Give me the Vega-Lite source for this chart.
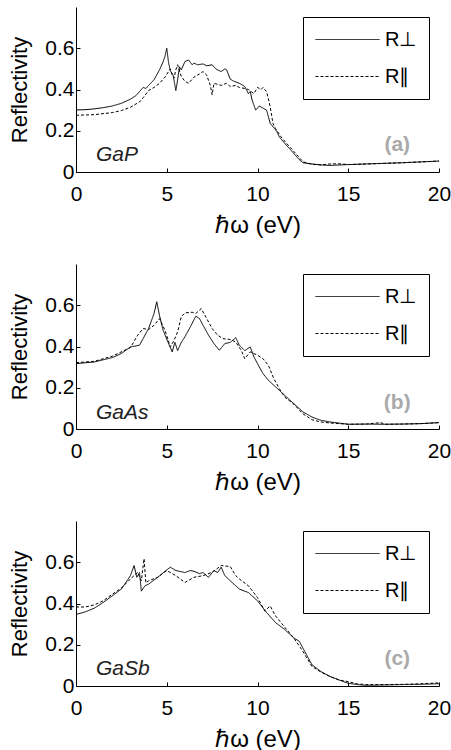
{
 "$schema": "https://vega.github.io/schema/vega-lite/v6.json",
 "padding": {"left": 8, "top": 7, "right": 2, "bottom": 0},
 "spacing": 92,
 "bounds": "flush",
 "resolve": {"scale": {"strokeDash": "independent"}, "legend": {"strokeDash": "independent"}},
 "config": {
  "view": {"stroke": null},
  "font": "Liberation Sans",
  "axis": {"grid": false, "domainColor": "black", "domainWidth": 1, "tickColor": "black", "tickWidth": 1, "tickSize": -4,
   "labelColor": "black", "titleColor": "black", "labelFontSize": 21, "titleFontSize": 22, "titleFontWeight": "normal",
   "labelFont": "Liberation Sans", "titleFont": "Liberation Sans"},
  "axisX": {"labelPadding": 15, "titlePadding": 9, "titleFontSize": 24, "labelFlush": false},
  "axisY": {"labelPadding": 6, "titlePadding": 13},
  "legend": {"orient": "top-right", "offset": 10, "title": null, "strokeColor": "black", "fillColor": "white", "padding": 12,
   "labelFontSize": 20, "labelFont": "Liberation Sans", "labelColor": "black", "symbolType": "M-3.2,0H3.2", "symbolSize": 400,
   "symbolStrokeWidth": 1, "symbolStrokeColor": "black", "symbolOffset": 22, "rowPadding": 16, "labelOffset": 27, "cornerRadius": 0}
 },
 "datasets": {
  "a": [
   {"E":0,"R":0.301,"p":"R⊥"},{"E":0.5,"R":0.302,"p":"R⊥"},{"E":1,"R":0.306,"p":"R⊥"},{"E":1.5,"R":0.312,"p":"R⊥"},{"E":2,"R":0.32,"p":"R⊥"},{"E":2.5,"R":0.333,"p":"R⊥"},{"E":3,"R":0.353,"p":"R⊥"},{"E":3.3,"R":0.37,"p":"R⊥"},{"E":3.5,"R":0.39,"p":"R⊥"},{"E":3.7,"R":0.41,"p":"R⊥"},{"E":3.85,"R":0.405,"p":"R⊥"},{"E":4,"R":0.42,"p":"R⊥"},{"E":4.3,"R":0.447,"p":"R⊥"},{"E":4.6,"R":0.495,"p":"R⊥"},{"E":4.8,"R":0.535,"p":"R⊥"},{"E":4.9,"R":0.56,"p":"R⊥"},{"E":5.0,"R":0.6,"p":"R⊥"},{"E":5.1,"R":0.53,"p":"R⊥"},{"E":5.2,"R":0.49,"p":"R⊥"},{"E":5.35,"R":0.47,"p":"R⊥"},{"E":5.5,"R":0.395,"p":"R⊥"},{"E":5.6,"R":0.447,"p":"R⊥"},{"E":5.7,"R":0.51,"p":"R⊥"},{"E":5.8,"R":0.495,"p":"R⊥"},{"E":6.0,"R":0.535,"p":"R⊥"},{"E":6.2,"R":0.543,"p":"R⊥"},{"E":6.4,"R":0.52,"p":"R⊥"},{"E":6.5,"R":0.528,"p":"R⊥"},{"E":6.7,"R":0.52,"p":"R⊥"},{"E":7,"R":0.524,"p":"R⊥"},{"E":7.2,"R":0.515,"p":"R⊥"},{"E":7.5,"R":0.52,"p":"R⊥"},{"E":7.7,"R":0.5,"p":"R⊥"},{"E":7.8,"R":0.495,"p":"R⊥"},{"E":8,"R":0.487,"p":"R⊥"},{"E":8.2,"R":0.5,"p":"R⊥"},{"E":8.3,"R":0.495,"p":"R⊥"},{"E":8.5,"R":0.45,"p":"R⊥"},{"E":8.7,"R":0.44,"p":"R⊥"},{"E":9,"R":0.43,"p":"R⊥"},{"E":9.2,"R":0.42,"p":"R⊥"},{"E":9.3,"R":0.414,"p":"R⊥"},{"E":9.5,"R":0.38,"p":"R⊥"},{"E":9.6,"R":0.39,"p":"R⊥"},{"E":9.7,"R":0.35,"p":"R⊥"},{"E":9.9,"R":0.3,"p":"R⊥"},{"E":10.1,"R":0.32,"p":"R⊥"},{"E":10.3,"R":0.31,"p":"R⊥"},{"E":10.5,"R":0.3,"p":"R⊥"},{"E":10.7,"R":0.236,"p":"R⊥"},{"E":11,"R":0.204,"p":"R⊥"},{"E":11.1,"R":0.19,"p":"R⊥"},{"E":11.2,"R":0.17,"p":"R⊥"},{"E":11.5,"R":0.139,"p":"R⊥"},{"E":11.8,"R":0.11,"p":"R⊥"},{"E":12,"R":0.09,"p":"R⊥"},{"E":12.3,"R":0.06,"p":"R⊥"},{"E":12.5,"R":0.045,"p":"R⊥"},{"E":13,"R":0.039,"p":"R⊥"},{"E":13.5,"R":0.034,"p":"R⊥"},{"E":14,"R":0.032,"p":"R⊥"},{"E":15,"R":0.036,"p":"R⊥"},{"E":16,"R":0.039,"p":"R⊥"},{"E":17,"R":0.042,"p":"R⊥"},{"E":18,"R":0.045,"p":"R⊥"},{"E":19,"R":0.049,"p":"R⊥"},{"E":20,"R":0.053,"p":"R⊥"},
   {"E":0,"R":0.275,"p":"R∥"},{"E":1,"R":0.278,"p":"R∥"},{"E":2,"R":0.288,"p":"R∥"},{"E":2.5,"R":0.298,"p":"R∥"},{"E":3,"R":0.314,"p":"R∥"},{"E":3.5,"R":0.34,"p":"R∥"},{"E":3.7,"R":0.36,"p":"R∥"},{"E":4,"R":0.395,"p":"R∥"},{"E":4.3,"R":0.41,"p":"R∥"},{"E":4.6,"R":0.43,"p":"R∥"},{"E":4.9,"R":0.46,"p":"R∥"},{"E":5.1,"R":0.487,"p":"R∥"},{"E":5.2,"R":0.5,"p":"R∥"},{"E":5.3,"R":0.47,"p":"R∥"},{"E":5.4,"R":0.455,"p":"R∥"},{"E":5.5,"R":0.495,"p":"R∥"},{"E":5.6,"R":0.52,"p":"R∥"},{"E":5.8,"R":0.463,"p":"R∥"},{"E":6,"R":0.44,"p":"R∥"},{"E":6.2,"R":0.43,"p":"R∥"},{"E":6.5,"R":0.46,"p":"R∥"},{"E":6.8,"R":0.475,"p":"R∥"},{"E":7,"R":0.487,"p":"R∥"},{"E":7.2,"R":0.47,"p":"R∥"},{"E":7.4,"R":0.42,"p":"R∥"},{"E":7.5,"R":0.374,"p":"R∥"},{"E":7.6,"R":0.43,"p":"R∥"},{"E":8,"R":0.42,"p":"R∥"},{"E":8.3,"R":0.43,"p":"R∥"},{"E":8.5,"R":0.414,"p":"R∥"},{"E":8.8,"R":0.42,"p":"R∥"},{"E":9,"R":0.41,"p":"R∥"},{"E":9.3,"R":0.405,"p":"R∥"},{"E":9.5,"R":0.4,"p":"R∥"},{"E":9.8,"R":0.38,"p":"R∥"},{"E":10,"R":0.41,"p":"R∥"},{"E":10.2,"R":0.4,"p":"R∥"},{"E":10.3,"R":0.41,"p":"R∥"},{"E":10.5,"R":0.39,"p":"R∥"},{"E":10.7,"R":0.317,"p":"R∥"},{"E":10.85,"R":0.236,"p":"R∥"},{"E":11,"R":0.21,"p":"R∥"},{"E":11.3,"R":0.17,"p":"R∥"},{"E":11.6,"R":0.139,"p":"R∥"},{"E":12,"R":0.1,"p":"R∥"},{"E":12.5,"R":0.05,"p":"R∥"},{"E":13,"R":0.037,"p":"R∥"},{"E":13.5,"R":0.035,"p":"R∥"},{"E":14,"R":0.039,"p":"R∥"},{"E":14.5,"R":0.04,"p":"R∥"},{"E":15,"R":0.036,"p":"R∥"},{"E":16,"R":0.039,"p":"R∥"},{"E":17,"R":0.042,"p":"R∥"},{"E":18,"R":0.045,"p":"R∥"},{"E":19,"R":0.049,"p":"R∥"},{"E":20,"R":0.053,"p":"R∥"}
  ],
  "b": [
   {"E":0,"R":0.317,"p":"R⊥"},{"E":1,"R":0.325,"p":"R⊥"},{"E":2,"R":0.346,"p":"R⊥"},{"E":2.5,"R":0.366,"p":"R⊥"},{"E":3,"R":0.398,"p":"R⊥"},{"E":3.5,"R":0.406,"p":"R⊥"},{"E":4,"R":0.487,"p":"R⊥"},{"E":4.3,"R":0.56,"p":"R⊥"},{"E":4.45,"R":0.617,"p":"R⊥"},{"E":4.6,"R":0.55,"p":"R⊥"},{"E":4.8,"R":0.479,"p":"R⊥"},{"E":5.1,"R":0.414,"p":"R⊥"},{"E":5.3,"R":0.374,"p":"R⊥"},{"E":5.45,"R":0.42,"p":"R⊥"},{"E":5.6,"R":0.38,"p":"R⊥"},{"E":5.8,"R":0.42,"p":"R⊥"},{"E":6,"R":0.447,"p":"R⊥"},{"E":6.3,"R":0.495,"p":"R⊥"},{"E":6.6,"R":0.547,"p":"R⊥"},{"E":6.8,"R":0.536,"p":"R⊥"},{"E":7,"R":0.503,"p":"R⊥"},{"E":7.3,"R":0.455,"p":"R⊥"},{"E":7.6,"R":0.414,"p":"R⊥"},{"E":7.9,"R":0.382,"p":"R⊥"},{"E":8.2,"R":0.414,"p":"R⊥"},{"E":8.5,"R":0.42,"p":"R⊥"},{"E":8.8,"R":0.443,"p":"R⊥"},{"E":9,"R":0.406,"p":"R⊥"},{"E":9.3,"R":0.38,"p":"R⊥"},{"E":9.6,"R":0.398,"p":"R⊥"},{"E":9.8,"R":0.35,"p":"R⊥"},{"E":10,"R":0.317,"p":"R⊥"},{"E":10.3,"R":0.269,"p":"R⊥"},{"E":10.6,"R":0.236,"p":"R⊥"},{"E":11,"R":0.204,"p":"R⊥"},{"E":11.5,"R":0.163,"p":"R⊥"},{"E":12,"R":0.123,"p":"R⊥"},{"E":12.5,"R":0.083,"p":"R⊥"},{"E":13,"R":0.058,"p":"R⊥"},{"E":13.5,"R":0.042,"p":"R⊥"},{"E":14,"R":0.034,"p":"R⊥"},{"E":15,"R":0.023,"p":"R⊥"},{"E":16,"R":0.024,"p":"R⊥"},{"E":17,"R":0.023,"p":"R⊥"},{"E":18,"R":0.024,"p":"R⊥"},{"E":19,"R":0.026,"p":"R⊥"},{"E":20,"R":0.031,"p":"R⊥"},
   {"E":0,"R":0.322,"p":"R∥"},{"E":1,"R":0.328,"p":"R∥"},{"E":2,"R":0.353,"p":"R∥"},{"E":3,"R":0.395,"p":"R∥"},{"E":3.4,"R":0.455,"p":"R∥"},{"E":3.7,"R":0.487,"p":"R∥"},{"E":4,"R":0.482,"p":"R∥"},{"E":4.3,"R":0.503,"p":"R∥"},{"E":4.6,"R":0.535,"p":"R∥"},{"E":4.9,"R":0.479,"p":"R∥"},{"E":5.2,"R":0.398,"p":"R∥"},{"E":5.4,"R":0.43,"p":"R∥"},{"E":5.6,"R":0.471,"p":"R∥"},{"E":5.8,"R":0.544,"p":"R∥"},{"E":6,"R":0.563,"p":"R∥"},{"E":6.4,"R":0.566,"p":"R∥"},{"E":6.6,"R":0.56,"p":"R∥"},{"E":6.9,"R":0.584,"p":"R∥"},{"E":7.2,"R":0.536,"p":"R∥"},{"E":7.5,"R":0.487,"p":"R∥"},{"E":7.8,"R":0.455,"p":"R∥"},{"E":8.1,"R":0.438,"p":"R∥"},{"E":8.5,"R":0.434,"p":"R∥"},{"E":8.8,"R":0.422,"p":"R∥"},{"E":9.1,"R":0.382,"p":"R∥"},{"E":9.3,"R":0.341,"p":"R∥"},{"E":9.6,"R":0.374,"p":"R∥"},{"E":10,"R":0.358,"p":"R∥"},{"E":10.3,"R":0.341,"p":"R∥"},{"E":10.6,"R":0.309,"p":"R∥"},{"E":10.9,"R":0.244,"p":"R∥"},{"E":11.2,"R":0.196,"p":"R∥"},{"E":11.5,"R":0.155,"p":"R∥"},{"E":12,"R":0.12,"p":"R∥"},{"E":12.5,"R":0.074,"p":"R∥"},{"E":13,"R":0.045,"p":"R∥"},{"E":13.5,"R":0.034,"p":"R∥"},{"E":14,"R":0.029,"p":"R∥"},{"E":15,"R":0.023,"p":"R∥"},{"E":16,"R":0.024,"p":"R∥"},{"E":16.8,"R":0.031,"p":"R∥"},{"E":17,"R":0.023,"p":"R∥"},{"E":18,"R":0.024,"p":"R∥"},{"E":19,"R":0.026,"p":"R∥"},{"E":20,"R":0.031,"p":"R∥"}
  ],
  "c": [
   {"E":0,"R":0.347,"p":"R⊥"},{"E":0.5,"R":0.359,"p":"R⊥"},{"E":1,"R":0.377,"p":"R⊥"},{"E":1.5,"R":0.405,"p":"R⊥"},{"E":2,"R":0.437,"p":"R⊥"},{"E":2.5,"R":0.47,"p":"R⊥"},{"E":3,"R":0.535,"p":"R⊥"},{"E":3.2,"R":0.584,"p":"R⊥"},{"E":3.35,"R":0.527,"p":"R⊥"},{"E":3.5,"R":0.55,"p":"R⊥"},{"E":3.6,"R":0.46,"p":"R⊥"},{"E":3.8,"R":0.486,"p":"R⊥"},{"E":4,"R":0.494,"p":"R⊥"},{"E":4.5,"R":0.527,"p":"R⊥"},{"E":5,"R":0.563,"p":"R⊥"},{"E":5.2,"R":0.576,"p":"R⊥"},{"E":5.5,"R":0.56,"p":"R⊥"},{"E":6,"R":0.55,"p":"R⊥"},{"E":6.3,"R":0.56,"p":"R⊥"},{"E":6.5,"R":0.556,"p":"R⊥"},{"E":6.8,"R":0.545,"p":"R⊥"},{"E":7,"R":0.55,"p":"R⊥"},{"E":7.3,"R":0.527,"p":"R⊥"},{"E":7.6,"R":0.56,"p":"R⊥"},{"E":7.8,"R":0.55,"p":"R⊥"},{"E":8,"R":0.576,"p":"R⊥"},{"E":8.2,"R":0.535,"p":"R⊥"},{"E":8.5,"R":0.51,"p":"R⊥"},{"E":9,"R":0.47,"p":"R⊥"},{"E":9.5,"R":0.453,"p":"R⊥"},{"E":10,"R":0.413,"p":"R⊥"},{"E":10.5,"R":0.356,"p":"R⊥"},{"E":11,"R":0.307,"p":"R⊥"},{"E":11.5,"R":0.274,"p":"R⊥"},{"E":12,"R":0.233,"p":"R⊥"},{"E":12.3,"R":0.217,"p":"R⊥"},{"E":12.6,"R":0.168,"p":"R⊥"},{"E":13,"R":0.103,"p":"R⊥"},{"E":13.5,"R":0.07,"p":"R⊥"},{"E":14,"R":0.046,"p":"R⊥"},{"E":14.5,"R":0.029,"p":"R⊥"},{"E":15,"R":0.013,"p":"R⊥"},{"E":15.5,"R":0.007,"p":"R⊥"},{"E":16,"R":0.003,"p":"R⊥"},{"E":17,"R":0.005,"p":"R⊥"},{"E":18,"R":0.007,"p":"R⊥"},{"E":19,"R":0.008,"p":"R⊥"},{"E":20,"R":0.011,"p":"R⊥"},
   {"E":0,"R":0.383,"p":"R∥"},{"E":0.5,"R":0.383,"p":"R∥"},{"E":1,"R":0.393,"p":"R∥"},{"E":1.5,"R":0.413,"p":"R∥"},{"E":2,"R":0.445,"p":"R∥"},{"E":2.5,"R":0.475,"p":"R∥"},{"E":3,"R":0.519,"p":"R∥"},{"E":3.4,"R":0.551,"p":"R∥"},{"E":3.6,"R":0.51,"p":"R∥"},{"E":3.75,"R":0.617,"p":"R∥"},{"E":3.85,"R":0.5,"p":"R∥"},{"E":4,"R":0.51,"p":"R∥"},{"E":4.5,"R":0.527,"p":"R∥"},{"E":5,"R":0.56,"p":"R∥"},{"E":5.5,"R":0.535,"p":"R∥"},{"E":6,"R":0.502,"p":"R∥"},{"E":6.5,"R":0.527,"p":"R∥"},{"E":7,"R":0.535,"p":"R∥"},{"E":7.5,"R":0.551,"p":"R∥"},{"E":8,"R":0.584,"p":"R∥"},{"E":8.5,"R":0.579,"p":"R∥"},{"E":8.8,"R":0.535,"p":"R∥"},{"E":9,"R":0.519,"p":"R∥"},{"E":9.5,"R":0.486,"p":"R∥"},{"E":10,"R":0.429,"p":"R∥"},{"E":10.4,"R":0.364,"p":"R∥"},{"E":10.7,"R":0.388,"p":"R∥"},{"E":11,"R":0.339,"p":"R∥"},{"E":11.5,"R":0.285,"p":"R∥"},{"E":12,"R":0.233,"p":"R∥"},{"E":12.5,"R":0.168,"p":"R∥"},{"E":13,"R":0.095,"p":"R∥"},{"E":13.5,"R":0.067,"p":"R∥"},{"E":14,"R":0.046,"p":"R∥"},{"E":14.5,"R":0.029,"p":"R∥"},{"E":15,"R":0.021,"p":"R∥"},{"E":15.5,"R":0.01,"p":"R∥"},{"E":16,"R":0.007,"p":"R∥"},{"E":17,"R":0.007,"p":"R∥"},{"E":18,"R":0.008,"p":"R∥"},{"E":19,"R":0.011,"p":"R∥"},{"E":20,"R":0.015,"p":"R∥"}
  ]
 },
 "vconcat": [
  {"width": 363, "height": 165,
   "layer": [
    {"data": {"name": "a"}, "mark": {"type": "line", "color": "black", "strokeWidth": 1},
     "encoding": {
      "x": {"field": "E", "type": "quantitative", "scale": {"domain": [0, 20]}, "axis": {"values": [0, 5, 10, 15, 20], "title": "ℏω (eV)"}},
      "y": {"field": "R", "type": "quantitative", "scale": {"domain": [0, 0.8], "nice": false}, "axis": {"values": [0, 0.2, 0.4, 0.6], "labelExpr": "datum.value == 0 ? '0' : format(datum.value, '.1f')", "title": "Reflectivity"}},
      "strokeDash": {"field": "p", "type": "nominal", "scale": {"domain": ["R⊥", "R∥"], "range": [[1, 0], [3, 2]]}}
     }},
    {"data": {"values": [{"E": 1.1, "R": 0.083, "t": "GaP"}]}, "mark": {"type": "text", "align": "left", "baseline": "middle", "fontStyle": "italic", "fontSize": 21, "color": "#222"},
     "encoding": {"x": {"field": "E", "type": "quantitative"}, "y": {"field": "R", "type": "quantitative"}, "text": {"field": "t"}}},
    {"data": {"values": [{"E": 17.7, "R": 0.13, "t": "(a)"}]}, "mark": {"type": "text", "align": "center", "baseline": "middle", "fontWeight": "bold", "fontSize": 21, "color": "#aaaaaa"},
     "encoding": {"x": {"field": "E", "type": "quantitative"}, "y": {"field": "R", "type": "quantitative"}, "text": {"field": "t"}}}
   ]},
  {"width": 363, "height": 165,
   "layer": [
    {"data": {"name": "b"}, "mark": {"type": "line", "color": "black", "strokeWidth": 1},
     "encoding": {
      "x": {"field": "E", "type": "quantitative", "scale": {"domain": [0, 20]}, "axis": {"values": [0, 5, 10, 15, 20], "title": "ℏω (eV)"}},
      "y": {"field": "R", "type": "quantitative", "scale": {"domain": [0, 0.8], "nice": false}, "axis": {"values": [0, 0.2, 0.4, 0.6], "labelExpr": "datum.value == 0 ? '0' : format(datum.value, '.1f')", "title": "Reflectivity"}},
      "strokeDash": {"field": "p", "type": "nominal", "scale": {"domain": ["R⊥", "R∥"], "range": [[1, 0], [3, 2]]}}
     }},
    {"data": {"values": [{"E": 1.1, "R": 0.079, "t": "GaAs"}]}, "mark": {"type": "text", "align": "left", "baseline": "middle", "fontStyle": "italic", "fontSize": 21, "color": "#222"},
     "encoding": {"x": {"field": "E", "type": "quantitative"}, "y": {"field": "R", "type": "quantitative"}, "text": {"field": "t"}}},
    {"data": {"values": [{"E": 17.7, "R": 0.128, "t": "(b)"}]}, "mark": {"type": "text", "align": "center", "baseline": "middle", "fontWeight": "bold", "fontSize": 21, "color": "#aaaaaa"},
     "encoding": {"x": {"field": "E", "type": "quantitative"}, "y": {"field": "R", "type": "quantitative"}, "text": {"field": "t"}}}
   ]},
  {"width": 363, "height": 165,
   "layer": [
    {"data": {"name": "c"}, "mark": {"type": "line", "color": "black", "strokeWidth": 1},
     "encoding": {
      "x": {"field": "E", "type": "quantitative", "scale": {"domain": [0, 20]}, "axis": {"values": [0, 5, 10, 15, 20], "title": "ℏω (eV)"}},
      "y": {"field": "R", "type": "quantitative", "scale": {"domain": [0, 0.8], "nice": false}, "axis": {"values": [0, 0.2, 0.4, 0.6], "labelExpr": "datum.value == 0 ? '0' : format(datum.value, '.1f')", "title": "Reflectivity"}},
      "strokeDash": {"field": "p", "type": "nominal", "scale": {"domain": ["R⊥", "R∥"], "range": [[1, 0], [3, 2]]}}
     }},
    {"data": {"values": [{"E": 1.1, "R": 0.083, "t": "GaSb"}]}, "mark": {"type": "text", "align": "left", "baseline": "middle", "fontStyle": "italic", "fontSize": 21, "color": "#222"},
     "encoding": {"x": {"field": "E", "type": "quantitative"}, "y": {"field": "R", "type": "quantitative"}, "text": {"field": "t"}}},
    {"data": {"values": [{"E": 17.7, "R": 0.13, "t": "(c)"}]}, "mark": {"type": "text", "align": "center", "baseline": "middle", "fontWeight": "bold", "fontSize": 21, "color": "#aaaaaa"},
     "encoding": {"x": {"field": "E", "type": "quantitative"}, "y": {"field": "R", "type": "quantitative"}, "text": {"field": "t"}}}
   ]}
 ]
}
